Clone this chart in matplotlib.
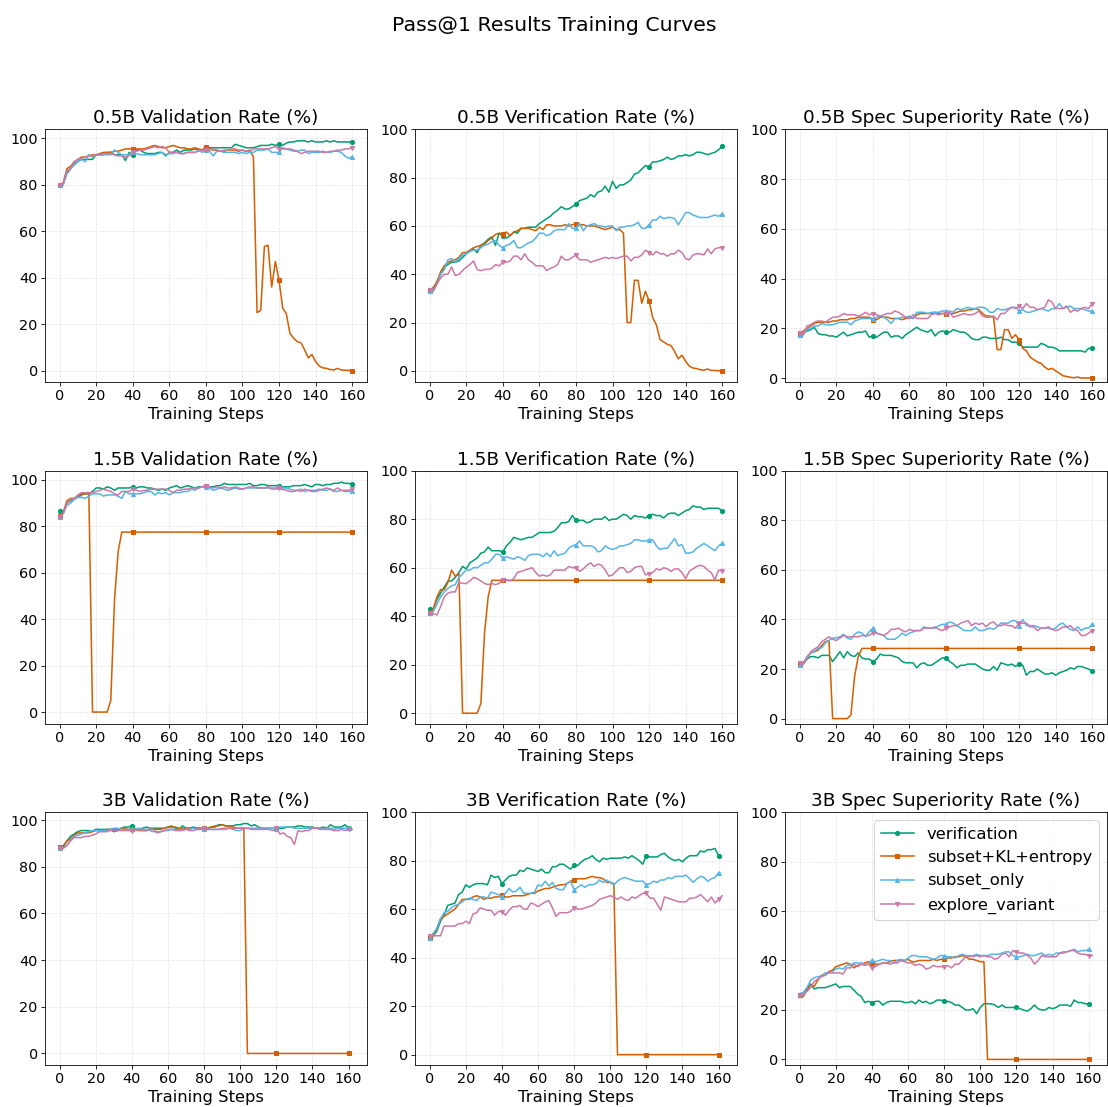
import numpy as np
import matplotlib
matplotlib.use("Agg")
import matplotlib.pyplot as plt

# ---------------------------
# Labels / styles
# ---------------------------
models = ["0.5B", "1.5B", "3B"]
metrics = ["Validation Rate (%)", "Verification Rate (%)", "Spec Superiority Rate (%)"]
runs = ["verification", "subset+KL+entropy", "subset_only", "explore_variant"]
colors = ["#009E73", "#D55E00", "#56B4E9", "#CC79A7"]
markers = ["o", "s", "^", "v"]

# ---------------------------
# Values (one point every 2 training steps)
# ---------------------------

# 0.5B - validation
ver_05_val = [80, 80.5, 85, 87, 89, 90, 91, 91, 91, 91,
              93, 93, 93, 94, 94, 93, 93, 93, 90.5, 94,
              93, 95, 95, 94, 93.5, 93.5, 93.5, 94, 94, 92.5,
              94, 94, 95, 94, 95, 95, 95, 95.5, 95, 95,
              95.5, 96, 96, 96, 96, 96, 96, 96, 97.5, 97,
              96.5, 96, 96, 96, 96.5, 97, 97, 97, 97.5, 97,
              97.5, 97, 98, 98.5, 98.5, 99, 99, 99, 98.5, 99,
              98.5, 98.5, 98.5, 99, 98.5, 99, 98.5, 98.5, 98.5, 98.5,
              98.5]
kl_05_val = [80, 81, 87, 88, 90, 91, 92, 92, 92.5, 93,
             93, 93.5, 94, 94, 94, 94.5, 94.5, 95, 95.5, 95.5,
             95.5, 95.5, 95.5, 95.5, 96, 96.5, 97, 96.5, 96, 96,
             96.5, 97, 96.5, 96, 96, 95.5, 95.5, 96, 95.5, 95,
             96.5, 95.5, 95, 95, 94.5, 94.5, 95, 95, 95, 94.5,
             95, 94.5, 95, 92, 25, 26, 53.5, 54, 36, 47,
             39, 27, 24.5, 16, 14, 12.5, 12, 9, 5.5, 7,
             4, 2, 1.2, 1, 0.5, 0.3, 1, 0.3, 0.2, 0.1,
             0]
sub_05_val = [80, 80, 86, 87, 88.5, 90, 91, 90, 93, 92,
              93, 93, 93, 93, 93, 95, 94, 93, 93, 93,
              94, 93.5, 93, 93, 93, 93, 93, 93.5, 94, 93,
              93.5, 93.5, 94, 93.5, 93.5, 94, 94, 94, 95, 94,
              95, 94.5, 92.5, 94.5, 94.5, 94, 94, 94, 94, 93.5,
              94, 93.5, 94, 94, 95, 95, 95, 95.5, 94, 94,
              94, 96, 95.5, 95, 94.5, 94.5, 95, 95, 93.5, 94,
              94, 94, 94.5, 94, 94, 94.5, 94.5, 94, 92.5, 91.5,
              92]
exp_05_val = [80, 80.5, 86, 87, 90, 91, 91.5, 92, 92.5, 92.5,
              93, 93, 93.5, 93.5, 93.5, 93, 92.5, 92.5, 92, 92.5,
              94, 94.5, 95, 95, 95.5, 96, 96.5, 96, 96.5, 96,
              94, 94, 94, 93.5, 93.5, 94, 94, 94, 94.5, 95,
              95, 95, 95.5, 95, 94.5, 95, 95, 95.5, 95.5, 95,
              95, 94.5, 94.5, 95.5, 95.5, 95.5, 95.5, 95.5, 96, 96.5,
              95.5, 95.5, 95.5, 95.5, 95, 94.5, 93.5, 94, 94.5, 94.5,
              94.5, 94.5, 94, 94, 94.5, 94.5, 95, 95, 95.5, 95.5,
              96]

# 0.5B - verification
ver_05_ver = [33.5, 33.5, 37, 40, 43, 44, 45, 45, 45.5, 47,
              48.5, 49.5, 50.5, 49, 52, 53, 54.5, 55.5, 52, 57,
              56, 55, 56, 57.5, 57, 59, 59, 59.5, 59.5, 59.5,
              61, 62, 63, 64, 65.5, 66.5, 68, 67, 67, 68,
              69, 70.5, 71, 71.5, 73, 72, 74, 74.5, 76.5, 74,
              78.5, 75.5, 77, 77, 78, 79, 81.5, 82, 83.5, 85,
              84.5, 86.5, 86.5, 87, 87.5, 88.5, 87.5, 88, 89, 89,
              89.5, 89, 89.5, 90.5, 90.5, 90, 89.5, 90, 90.5, 91.5,
              93]
kl_05_ver = [33.5, 34.5, 37, 41, 43.5, 45, 45.5, 46, 47, 49,
             49, 50, 51, 51.5, 52, 52.5, 54, 55, 56.5, 57,
             56.5, 57.5, 56, 57.5, 58, 59, 59, 59, 58.5, 58,
             59.5, 58.5, 60.5, 60.5, 60, 60, 60, 60.5, 60, 60.5,
             61, 60.5, 60.5, 60, 60, 60, 59.5, 59, 58.5, 59,
             59.5, 58.5, 58.5, 57, 20, 20, 37.5, 37.5, 28, 33,
             29, 22, 19, 13, 12, 11, 10.5, 8, 5, 6.5,
             4, 2, 1.2, 1, 0.5, 0.3, 0.8, 0.2, 0.2, 0.1,
             0]
sub_05_ver = [33, 33, 36, 40, 42, 46, 46.5, 45, 46.5, 48,
              48.5, 49.5, 50, 50, 51, 52, 52.5, 53.5, 54, 52,
              51, 52, 52.5, 54, 51, 51, 52, 53, 53.5, 55,
              57, 57, 56, 56.5, 58, 58.5, 58.5, 58.5, 61, 59,
              59, 61, 58, 60, 60.5, 61, 60, 60, 59.5, 60,
              60, 58, 59.5, 59.5, 60, 60, 60.5, 61.5, 59, 59,
              60.5, 62.5, 62.5, 64, 63, 63.5, 63.5, 63, 60.5, 63,
              65.5, 65.5, 64.5, 64, 63.5, 63.5, 63.5, 64, 64.5, 64,
              65]
exp_05_ver = [33.5, 33.5, 36, 38.5, 40, 40, 43, 39.5, 40, 41.5,
              43, 44, 45.5, 42, 41.5, 42, 42, 42.5, 44, 43.5,
              45, 45, 45.5, 47.5, 47.5, 46, 48.5, 46, 45, 43.5,
              43.5, 43.5, 41.5, 42.5, 43, 44, 47.5, 46, 46, 47,
              48, 46, 46, 46, 45, 45.5, 46, 46.5, 47, 46.5,
              47, 46.5, 47, 47.5, 47.5, 45.5, 47, 47, 48, 50,
              49, 48, 49.5, 48.5, 48.5, 47.5, 48.5, 48.5, 50, 49,
              46.5, 46, 48, 48.5, 48.5, 48, 50.5, 48.5, 50.5, 51,
              51]

# 0.5B - spec superiority
ver_05_spec = [17.5, 18, 19, 19.5, 20.5, 18, 17.5, 17.5, 17, 17,
               16.5, 17.5, 18.5, 17, 17.5, 18, 18.5, 18.5, 19, 16.5,
               17, 16.5, 17.5, 18.5, 18.5, 16.5, 17, 17, 16, 17.5,
               18.5, 19.5, 20.5, 19.5, 19, 18.5, 19.5, 17, 18.5, 19,
               18.5, 18.5, 19.5, 19, 18.5, 18.5, 17.5, 16, 15.5, 15.5,
               16.5, 16.5, 16, 16, 16, 16.5, 15.5, 15.5, 14.5, 14.5,
               14, 12.5, 12.5, 12.5, 12.5, 12.5, 14, 13.5, 12.5, 12.5,
               12, 11, 11, 11, 11, 11, 11, 11, 10.5, 12,
               12]
kl_05_spec = [18, 19, 20, 21, 22, 22.5, 22.5, 22.5, 22.5, 23,
              23, 23.5, 23.5, 23.5, 24, 24, 24.5, 24.5, 24.5, 24.5,
              23.5, 23.5, 24.5, 24.5, 24.5, 24, 24, 24, 23.5, 24,
              24.5, 24, 25.5, 26, 26, 26, 26, 26.5, 26, 26,
              26, 26, 26, 26.5, 27, 27, 27.5, 27.5, 28, 27.5,
              26, 25, 25, 24.5, 11.5, 11.5, 19.5, 19.5, 16, 17.5,
              15.5, 12, 11, 8.5, 7.5, 6.5, 6, 4.5, 3.5, 4,
              3, 2, 1, 0.7, 0.4, 0.2, 0.5, 0.1, 0.1, 0.1,
              0]
sub_05_spec = [17.5, 17.5, 19.5, 20, 21, 21, 22, 21.5, 21.5, 21.5,
               22, 22.5, 22.5, 22.5, 21.5, 23, 23.5, 24, 24, 24,
               24, 24.5, 25, 24.5, 23.5, 22, 24, 24, 24.5, 24.5,
               25, 24, 26.5, 26.5, 26.5, 26, 26.5, 26.5, 26.5, 27,
               27, 27, 26.5, 28, 27.5, 28, 28.5, 28, 28, 28.5,
               28.5, 28, 26.5, 26.5, 28, 27.5, 27.5, 28, 28.5, 28.5,
               27, 27.5, 26.5, 26.5, 27, 27.5, 28, 27.5, 27, 28,
               28, 30, 28, 28.5, 29, 28, 28, 28, 27.5, 27,
               27]
exp_05_spec = [18, 17.5, 21, 21.5, 22.5, 23, 23, 22.5, 23.5, 24.5,
               24.5, 25, 26, 25.5, 25.5, 25.5, 25, 25.5, 26.5, 25.5,
               26, 25.5, 25, 25.5, 26, 26, 27, 26.5, 25.5, 24.5,
               24, 25.5, 24, 24, 24, 24, 25.5, 26, 25.5, 26,
               26, 26.5, 24.5, 25, 25.5, 26, 25.5, 25.5, 26, 27,
               25, 24.5, 24.5, 25, 23.5, 26, 26, 27.5, 28.5, 28,
               29, 28, 30, 28.5, 28.5, 27.5, 28, 28.5, 31.5, 30.5,
               28, 28, 28, 29, 26.5, 27.5, 27, 28, 28.5, 28,
               30]

# 1.5B - validation
ver_15_val = [86.5, 86, 90, 91, 92, 92.5, 93.5, 94, 94, 95,
              96.5, 96.5, 96, 97, 96.5, 95.5, 96.5, 96.5, 96.5, 96.5,
              97, 96.5, 97, 97, 96.5, 96.5, 96, 95.5, 96, 95.5,
              96.5, 97, 97.5, 96.5, 97, 97.5, 97, 96.5, 97, 97,
              97.5, 97, 97, 97.5, 97.5, 98.5, 98, 98, 98, 98,
              98, 98, 98.5, 97.5, 97.5, 98, 98, 97.5, 97.5, 97.5,
              97.5, 97, 97, 97, 97.5, 97.5, 97.5, 98, 97.5, 97,
              98, 98, 97.5, 98, 98, 98.5, 98.5, 99, 98.5, 98.5,
              98]
kl_15_val = [84.5, 86, 91, 92, 92, 93, 94, 94, 94, 0,
             0, 0, 0, 0, 5, 48, 69, 77.5, 77.5, 77.5,
             77.5, 77.5, 77.5, 77.5, 77.5, 77.5, 77.5, 77.5, 77.5, 77.5,
             77.5, 77.5, 77.5, 77.5, 77.5, 77.5, 77.5, 77.5, 77.5, 77.5,
             77.5, 77.5, 77.5, 77.5, 77.5, 77.5, 77.5, 77.5, 77.5, 77.5,
             77.5, 77.5, 77.5, 77.5, 77.5, 77.5, 77.5, 77.5, 77.5, 77.5,
             77.5, 77.5, 77.5, 77.5, 77.5, 77.5, 77.5, 77.5, 77.5, 77.5,
             77.5, 77.5, 77.5, 77.5, 77.5, 77.5, 77.5, 77.5, 77.5, 77.5,
             77.5]
sub_15_val = [84, 85.5, 89, 90, 91.5, 92.5, 92.5, 92, 93, 94,
              94, 94, 93, 93.5, 93.5, 93.5, 93, 92, 95, 94,
              94, 94, 94, 94.5, 95, 95, 93.5, 94.5, 94, 94.5,
              93.5, 94.5, 94.5, 94.5, 95, 95, 96, 95.5, 96.5, 97,
              97, 96.5, 95.5, 96, 96.5, 96, 95.5, 96, 96.5, 96,
              96, 96.5, 96.5, 96.5, 96.5, 96.5, 96.5, 96.5, 96.5, 96.5,
              97, 96.5, 96.5, 96, 95.5, 95.5, 96, 95, 95.5, 95.5,
              95.5, 96, 95.5, 95.5, 96, 95, 95, 95.5, 95, 95,
              95]
exp_15_val = [84, 85.5, 90, 91.5, 92, 93.5, 94.5, 94.5, 94.5, 94.5,
              95, 95.5, 96, 95.5, 95, 94, 93.5, 95, 95, 95,
              96, 95.5, 95, 95.5, 95.5, 96, 96, 96, 96, 96,
              95.5, 94.5, 95.5, 95.5, 96, 96, 96.5, 96.5, 96.5, 97,
              97.5, 97, 96.5, 97, 96.5, 97, 96.5, 96.5, 97, 96.5,
              96, 96.5, 97, 97, 96.5, 96.5, 96.5, 97, 96, 96,
              96.5, 96, 95.5, 95, 95, 95.5, 95, 96, 95.5, 95,
              95, 95.5, 96, 96.5, 96, 95.5, 96.5, 95.5, 95.5, 95.5,
              96]

# 1.5B - verification
ver_15_ver = [43, 43, 47, 49.5, 52, 54.5, 54.5, 56, 58, 60.5,
              59.5, 62, 63, 64, 66, 66.5, 68.5, 67, 67, 67,
              66.5, 69, 70.5, 72.5, 72, 71.5, 72, 72.5, 72.5, 73.5,
              74.5, 74.5, 74.5, 74.5, 75, 76.5, 78.5, 78.5, 79, 81.5,
              79.5, 79.5, 79.5, 78.5, 79, 80, 80, 80, 81, 79.5,
              80, 80, 81, 82, 81.5, 80, 81.5, 81, 81, 80.5,
              81.5, 82, 81.5, 81.5, 80.5, 82, 82.5, 82.5, 81.5, 82.5,
              83.5, 84, 85.5, 85, 85, 84, 84.5, 84.5, 84.5, 84.5,
              83.5]
kl_15_ver = [41.5, 43, 48, 51, 51, 54, 59, 56.5, 57.5, 0,
             0, 0, 0, 0, 4, 33, 48, 54.8, 54.8, 54.8,
             54.8, 54.8, 54.8, 54.8, 54.8, 54.8, 54.8, 54.8, 54.8, 54.8,
             54.8, 54.8, 54.8, 54.8, 54.8, 54.8, 54.8, 54.8, 54.8, 54.8,
             54.8, 54.8, 54.8, 54.8, 54.8, 54.8, 54.8, 54.8, 54.8, 54.8,
             54.8, 54.8, 54.8, 54.8, 54.8, 54.8, 54.8, 54.8, 54.8, 54.8,
             54.8, 54.8, 54.8, 54.8, 54.8, 54.8, 54.8, 54.8, 54.8, 54.8,
             54.8, 54.8, 54.8, 54.8, 54.8, 54.8, 54.8, 54.8, 54.8, 54.8,
             54.8]
sub_15_ver = [41.5, 42, 45, 48, 50, 51.5, 52.5, 53, 56, 57.5,
              59, 59, 60, 60, 61, 62, 62, 63.5, 65.5, 65.5,
              64, 64.5, 64, 63.5, 64.5, 64, 63, 65, 65.5, 65.5,
              65.5, 64.5, 66, 64.5, 67, 65, 65.5, 66, 68, 69,
              69.5, 71, 69, 69, 69, 68.5, 66.5, 67, 69, 68,
              67.5, 68, 69, 69, 69.5, 70, 71.5, 71.5, 71, 71,
              71.5, 71.5, 69, 67.5, 68, 68, 70, 72, 69, 69.5,
              66, 66, 66.5, 68, 69, 70, 69, 68, 67, 69,
              70]
exp_15_ver = [41.5, 41, 40.5, 44, 48, 49.5, 50, 50, 54, 53.5,
              53.5, 54.5, 56, 55.5, 54.5, 53.5, 53, 53.5, 53, 53.5,
              55, 55, 54.5, 55.5, 58, 58.5, 59, 59.5, 60, 58,
              56.5, 57, 56.5, 57, 59, 59, 59, 59, 60.5, 60,
              60, 58.5, 59.5, 61, 62, 60.5, 61.5, 61, 59, 56.5,
              57, 58.5, 60, 60, 58, 58.5, 60, 60.5, 60.5, 57,
              57.5, 58, 59.5, 59, 60, 59.5, 58.5, 59.5, 59.5, 58,
              55.5, 58.5, 59.5, 60.5, 61, 60.5, 59, 58, 55, 59,
              58.5]

# 1.5B - spec superiority
ver_15_spec = [22, 22, 24, 25, 25, 24.5, 25.5, 25.5, 25.5, 23,
               25, 27, 24.5, 27, 25.5, 25, 26.5, 24.5, 24, 24,
               23, 24, 26, 25.5, 25.5, 25.5, 25, 24.5, 23, 22.5,
               22.5, 22.5, 20.5, 22, 22.5, 21.5, 21.5, 22.5, 23.5, 24.5,
               24.5, 23, 22, 20.5, 21.5, 21.5, 22, 22, 22, 21,
               20, 19.5, 19.5, 21, 19.5, 22.5, 22, 21.5, 22, 21,
               22, 21.5, 17.5, 19, 19, 20, 19, 18, 18, 18.5,
               17.5, 18.5, 19, 19.5, 20.5, 20, 21, 21, 20.5, 20,
               19]
kl_15_spec = [22, 22.5, 25, 26.5, 27, 27.5, 29.5, 31, 31.5, 0,
              0, 0, 0, 0, 1.5, 17, 25, 28.3, 28.3, 28.3,
              28.3, 28.3, 28.3, 28.3, 28.3, 28.3, 28.3, 28.3, 28.3, 28.3,
              28.3, 28.3, 28.3, 28.3, 28.3, 28.3, 28.3, 28.3, 28.3, 28.3,
              28.3, 28.3, 28.3, 28.3, 28.3, 28.3, 28.3, 28.3, 28.3, 28.3,
              28.3, 28.3, 28.3, 28.3, 28.3, 28.3, 28.3, 28.3, 28.3, 28.3,
              28.3, 28.3, 28.3, 28.3, 28.3, 28.3, 28.3, 28.3, 28.3, 28.3,
              28.3, 28.3, 28.3, 28.3, 28.3, 28.3, 28.3, 28.3, 28.3, 28.3,
              28.3]
sub_15_spec = [21.5, 22, 25, 26.5, 27, 28.5, 28.5, 30.5, 31.5, 32.5,
               32.5, 33, 34, 32.5, 32, 34, 35, 34.5, 33, 35,
               36.5, 34.5, 34, 33.5, 32, 32, 32, 33, 34.5, 33.5,
               34.5, 35, 35.5, 35.5, 37, 36.5, 36.5, 36.5, 37.5, 38,
               38, 39, 38.5, 37.5, 36.5, 35.5, 35.5, 35.5, 37, 35.5,
               35.5, 36, 36.5, 36, 37, 38.5, 38.5, 38.5, 39.5, 39.5,
               37.5, 40, 37.5, 37.5, 37.5, 37, 36.5, 36.5, 36.5, 36,
               36.5, 38, 38.5, 37, 36, 35.5, 37, 35.5, 36.5, 36.5,
               38]
exp_15_spec = [22.5, 22, 24, 27, 28, 29, 31, 32, 33, 32,
               31.5, 32.5, 33.5, 33, 33, 33, 33, 33.5, 33.5, 33.5,
               34.5, 34.5, 34, 33.5, 34.5, 36, 36, 36.5, 35.5, 35,
               36, 35.5, 35.5, 35.5, 36.5, 36.5, 36.5, 37, 36, 35.5,
               36.5, 37, 37.5, 37.5, 38.5, 39, 39.5, 37.5, 38.5, 38,
               38.5, 37, 38.5, 39, 37.5, 37.5, 38, 37.5, 37.5, 36.5,
               38.5, 38.5, 38.5, 37, 37, 35.5, 36.5, 36.5, 37, 36,
               35.5, 36, 37, 37, 37.5, 36, 35.5, 33.5, 33.5, 34.5,
               35.5]

# 3B - validation
ver_3_val = [88.5, 88.5, 91, 93, 94, 95, 95.5, 95.5, 95.5, 95,
             96, 96, 96, 96, 96, 95, 95.5, 96.5, 97, 97,
             97.5, 96, 96, 96.5, 97, 96.5, 96.5, 96.5, 96.5, 96.5,
             97, 97.5, 96.5, 96, 97.5, 96.5, 96.5, 97, 96.5, 96.5,
             96, 96.5, 97, 97, 98, 98, 97.5, 97.5, 97.5, 98,
             98, 98.5, 98.5, 97.5, 98, 97, 96.5, 96.5, 96.5, 96.5,
             96, 96.5, 96.5, 97, 97, 97, 97.5, 97.5, 97, 97,
             97, 96.5, 96.5, 97, 96.5, 98, 97, 97, 97, 98,
             96.5]
kl_3_val = [88.5, 89, 91, 92, 93.5, 94.5, 94.5, 94.5, 94.5, 95,
            95.5, 95.5, 95.5, 96, 96, 96, 96, 96, 96.5, 96,
            96, 96, 95.5, 95.5, 95.5, 96, 96, 96, 96, 96.5,
            97, 97, 97, 96.5, 96.5, 96.5, 96.5, 96.5, 96.5, 96.5,
            96.5, 96.5, 97, 97.5, 97.5, 98, 97.5, 97, 97, 96.5,
            96.5, 96.5, 0, 0, 0, 0, 0, 0, 0, 0,
            0, 0, 0, 0, 0, 0, 0, 0, 0, 0,
            0, 0, 0, 0, 0, 0, 0, 0, 0, 0,
            0]
sub_3_val = [88, 88, 89, 91.5, 93, 93.5, 94, 94.5, 95, 95.5,
             95.5, 95.5, 95.5, 95.5, 96, 96.5, 96.5, 96, 96, 96,
             96, 96, 96.5, 96, 96, 95.5, 95, 95, 95, 95.5,
             95.5, 96, 96, 95.5, 96, 96, 96, 96.5, 96, 96,
             96, 96, 96, 96, 96, 96, 96, 96.5, 96, 95.5,
             95.5, 96.5, 96.5, 96.5, 96.5, 96.5, 96.5, 96.5, 96.5, 96.5,
             96, 97, 97, 97, 97, 96.5, 96.5, 96.5, 96.5, 96.5,
             96.5, 96.5, 96.5, 96, 96.5, 96.5, 96, 96.5, 96.5, 96.5,
             96.5]
exp_3_val = [88, 88, 89, 91, 92.5, 92.5, 92.5, 93, 93, 93.5,
             94, 95, 95, 95, 95.5, 95.5, 95.5, 95.5, 95.5, 95.5,
             95.5, 95.5, 96, 95.5, 95.5, 96, 96, 94.5, 95, 95.5,
             96, 96, 95.5, 95.5, 95.5, 96, 95.5, 95.5, 96, 96,
             96.5, 96, 96, 96, 96, 96.5, 96.5, 96.5, 96.5, 96.5,
             96.5, 96.5, 96.5, 96, 96, 96, 96, 96, 96, 95.5,
             96.5, 94, 94.5, 93, 92.5, 89.5, 95.5, 95, 95.5, 95.5,
             96.5, 96.5, 96, 96, 96, 96, 95.5, 95.5, 96, 95.5,
             96, 96]

# 3B - verification
ver_3_ver = [48, 49, 51, 55, 57.5, 61.5, 62, 62.5, 66, 67,
             70, 69, 70, 70.5, 70.5, 70.5, 70, 74, 73, 73.5,
             70.5, 72, 73.5, 74, 74, 76, 75.5, 77, 76.5, 76,
             75.5, 76.5, 75, 75, 77.5, 77.5, 78.5, 78.5, 77.5, 76.5,
             78, 78, 79.5, 80.5, 81, 82, 80.5, 79.5, 81, 80.5,
             81, 81, 81, 81, 81.5, 81, 82, 81, 80, 78.5,
             82, 81.5, 81.5, 81.5, 82.5, 83, 81.5, 80.5, 80, 80.5,
             79.5, 81, 82, 82, 82, 84, 83.5, 84.5, 84.5, 85,
             82]
kl_3_ver = [48, 49.5, 52, 56, 57, 58, 59, 60, 62, 64,
            64, 64, 65, 65.5, 65, 64, 64.5, 64.5, 65, 65,
            66, 65, 65, 65.5, 65.5, 65.5, 65.5, 66, 66.5, 66.5,
            67.5, 68, 68.5, 68.5, 69, 69.5, 70, 70, 70.5, 71.5,
            72, 72.5, 72.5, 72.5, 73, 73.5, 73, 73, 72.5, 71,
            71, 70.5, 0, 0, 0, 0, 0, 0, 0, 0,
            0, 0, 0, 0, 0, 0, 0, 0, 0, 0,
            0, 0, 0, 0, 0, 0, 0, 0, 0, 0,
            0]
sub_3_ver = [48, 50, 52, 56, 58.5, 59, 60.5, 61.5, 62, 63,
             64, 64.5, 64, 63.5, 65, 65, 64.5, 67, 66.5, 66,
             65, 66.5, 68.5, 67, 67.5, 69, 66.5, 66.5, 66.5, 67,
             70, 69.5, 71.5, 69.5, 71, 68.5, 68, 68, 70.5, 71.5,
             68, 69, 70, 69, 70, 70, 70.5, 72, 71, 72,
             71, 70, 71.5, 72.5, 73, 72.5, 72, 71.5, 71.5, 71.5,
             70, 70.5, 71.5, 71, 72, 72, 73, 72.5, 73.5, 73.5,
             73.5, 74, 72.5, 71, 72.5, 73.5, 73, 71.5, 72.5, 73,
             75]
exp_3_ver = [49, 49, 49, 49, 53, 53, 53, 53, 54, 54,
             55, 54, 58, 58.5, 60.5, 60, 59.5, 59.5, 57.5, 59,
             59, 57.5, 59.5, 61, 61, 61.5, 60, 60, 62.5, 62,
             61, 62, 63, 63.5, 60.5, 57, 58.5, 58.5, 58.5, 59,
             60.5, 60, 60, 60.5, 61, 61.5, 62.5, 64, 64.5, 65,
             65.5, 65, 64, 65, 64, 63.5, 65, 64.5, 65.5, 66.5,
             66.5, 64.5, 64.5, 62, 59.5, 65, 64.5, 64, 63.5, 63,
             63, 63, 64.5, 64.5, 65, 66, 64.5, 63, 65, 62.5,
             64, 65.5]

# 3B - spec superiority
ver_3_spec = [26, 27, 28.5, 30.5, 28.5, 29, 29, 29, 29.5, 30,
              30.5, 29, 29.5, 29.5, 29.5, 28, 26.5, 25.5, 23, 23.5,
              23, 23.5, 23.5, 22, 23, 23.5, 23.5, 23.5, 23.5, 23,
              23, 23.5, 22.5, 24, 23, 23.5, 22.5, 23, 24, 24,
              23.5, 23.5, 23, 22, 22, 21, 20, 20, 20.5, 18.5,
              21, 22.5, 22.5, 22.5, 22, 21, 22, 21, 21, 21,
              21, 20.5, 20, 19.5, 20.5, 22, 20.5, 20, 20, 21,
              20.5, 21, 22, 22, 22, 21.5, 24, 23, 23, 22.5,
              22.5]
kl_3_spec = [26, 25.5, 28, 30, 29.5, 32, 34, 34, 35.5, 36,
             37.5, 38, 38.5, 39, 38.5, 37, 38, 38.5, 39, 39.5,
             39, 38.5, 38.5, 39, 39, 39.5, 40, 40, 40, 40,
             40.5, 39.5, 39.5, 40, 40, 40, 40, 40.5, 40, 40.5,
             40.5, 41, 41, 41.5, 41.5, 42, 41.5, 40.5, 40.5, 40,
             39.5, 39.5, 0, 0, 0, 0, 0, 0, 0, 0,
             0, 0, 0, 0, 0, 0, 0, 0, 0, 0,
             0, 0, 0, 0, 0, 0, 0, 0, 0, 0,
             0]
sub_3_spec = [26.5, 27, 29, 32, 33, 33.5, 33.5, 35, 35, 35.5,
              36.5, 37, 36.5, 38, 38, 39, 39, 39, 38.5, 38.5,
              40, 39.5, 40, 40.5, 40, 40, 39, 40, 40.5, 40,
              41, 42, 42, 41.5, 41.5, 41.5, 41, 40.5, 41, 42,
              42, 41.5, 41.5, 41, 42, 42.5, 42, 41.5, 42, 42.5,
              42, 42, 42, 42.5, 42.5, 42.5, 43, 43.5, 43.5, 42,
              41.5, 41.5, 42, 42.5, 42, 42, 42.5, 43, 42, 42.5,
              42, 43, 43, 43.5, 43.5, 44, 44.5, 43.5, 44, 44,
              44.5]
exp_3_spec = [26, 26, 27.5, 29, 31.5, 32.5, 33.5, 34, 35, 35,
              35, 35, 34.5, 37, 37, 38.5, 37.5, 38.5, 38, 38.5,
              37, 37.5, 38.5, 39, 39, 38.5, 39, 39, 40, 39.5,
              39, 39, 38, 38.5, 38, 36.5, 37, 38, 37.5, 37.5,
              37.5, 38, 37, 38.5, 38.5, 40, 41.5, 42, 41.5, 42,
              41.5, 42, 41.5, 41.5, 40.5, 41, 42.5, 43, 41.5, 44,
              43.5, 43, 43, 42, 41, 38.5, 40, 42, 41.5, 41.5,
              41.5, 41.5, 43, 43, 43.5, 44, 44, 43, 42.5, 42.5,
              42, 42]

panels = [
    [[ver_05_val, kl_05_val, sub_05_val, exp_05_val],
     [ver_05_ver, kl_05_ver, sub_05_ver, exp_05_ver],
     [ver_05_spec, kl_05_spec, sub_05_spec, exp_05_spec]],
    [[ver_15_val, kl_15_val, sub_15_val, exp_15_val],
     [ver_15_ver, kl_15_ver, sub_15_ver, exp_15_ver],
     [ver_15_spec, kl_15_spec, sub_15_spec, exp_15_spec]],
    [[ver_3_val, kl_3_val, sub_3_val, exp_3_val],
     [ver_3_ver, kl_3_ver, sub_3_ver, exp_3_ver],
     [ver_3_spec, kl_3_spec, sub_3_spec, exp_3_spec]],
]

# ---------------------------
# Plot (15x15 inch figure rendered down to ~1108 px)
# ---------------------------
DPI = 1108 / 15
fig, axes = plt.subplots(3, 3, figsize=(15, 1107 / DPI), dpi=DPI)
fig.subplots_adjust(left=0.0406, right=0.999, top=0.8832, bottom=0.038,
                    wspace=0.15, hspace=0.35)

for i, model in enumerate(models):
    for j, metric in enumerate(metrics):
        ax = axes[i, j]
        for k, run in enumerate(runs):
            y = panels[i][j][k]
            x = np.arange(len(y)) * 2
            ax.plot(x, y, color=colors[k], marker=markers[k], markersize=4,
                    markevery=20, linewidth=1.5, label=run)
        ax.set_title(f"{model} {metric}", fontsize=18)
        ax.set_xlabel("Training Steps", fontsize=16)
        ax.set_xticks(range(0, 161, 20))
        ax.tick_params(labelsize=14)
        ax.grid(True, linestyle="--", alpha=0.3)
        if j > 0:
            ax.set_ylim(top=100)

axes[2, 2].legend(loc="upper right", fontsize=16)

fig.suptitle("Pass@1 Results Training Curves", fontsize=20, y=0.977, va="center")

plt.savefig("out.png", dpi=DPI)
